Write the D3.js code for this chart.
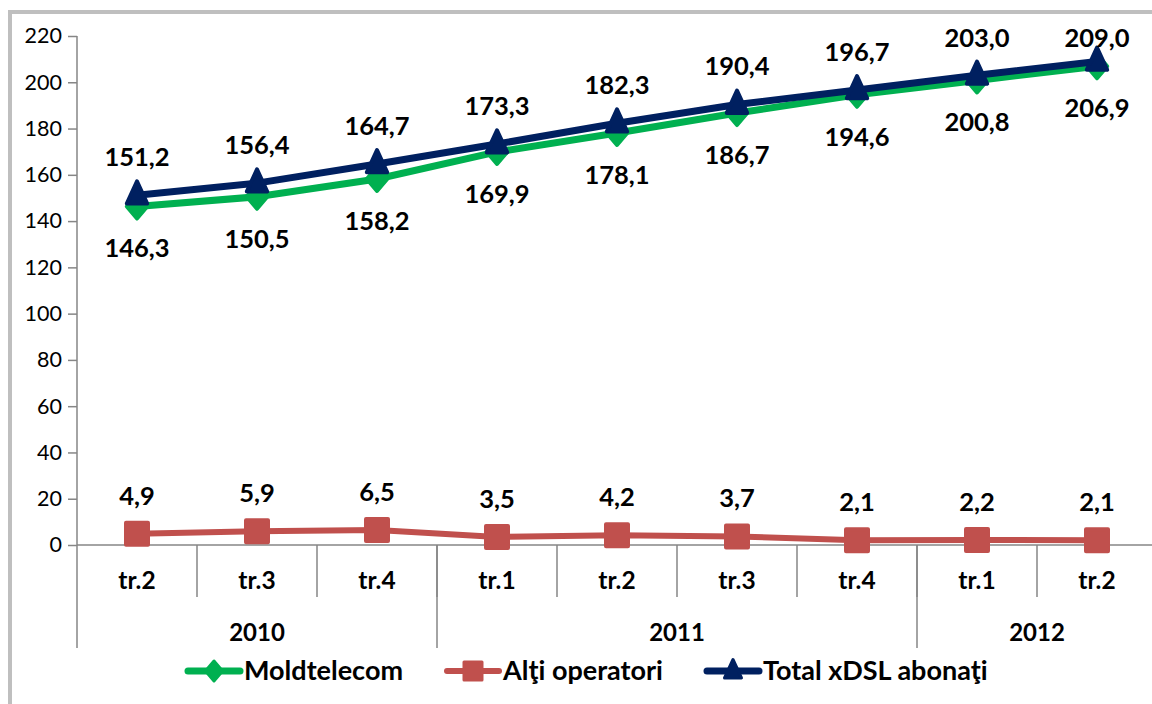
<!DOCTYPE html>
<html>
<head>
<meta charset="utf-8">
<script src="https://cdn.jsdelivr.net/npm/d3@7"></script>
<style>
  body { margin: 0; background: #fff; }
  svg { display: block; font-family: Lato, "Open Sans", sans-serif; }
</style>
</head>
<body>
<div id="chart"></div>
<script>
// data
var quarters = ['tr.2', 'tr.3', 'tr.4', 'tr.1', 'tr.2', 'tr.3', 'tr.4', 'tr.1', 'tr.2'];
var years = [
  {label: '2010', count: 3},
  {label: '2011', count: 4},
  {label: '2012', count: 2}
];
var moldtelecom = [146.3, 150.5, 158.2, 169.9, 178.1, 186.7, 194.6, 200.8, 206.9];
var altiOperatori = [4.9, 5.9, 6.5, 3.5, 4.2, 3.7, 2.1, 2.2, 2.1];
var totalXdsl = [151.2, 156.4, 164.7, 173.3, 182.3, 190.4, 196.7, 203.0, 209.0];
var yTicks = [0, 20, 40, 60, 80, 100, 120, 140, 160, 180, 200, 220];

var width = 1152, height = 704,
    plot = {left: 77, right: 1157, top: 36, bottom: 545};

var svg = d3.select('#chart').append('svg')
    .attr('width', width).attr('height', height);

// outer chart border (right/bottom edges fall outside the picture)
svg.append('rect')
    .attr('x', 10).attr('y', 12)
    .attr('width', 1170).attr('height', 720)
    .attr('fill', 'none').attr('stroke', '#bfbfbf').attr('stroke-width', 4);

var x = d3.scaleBand()
    .domain(d3.range(quarters.length))
    .range([plot.left, plot.right]);

var y = d3.scaleLinear()
    .domain([0, 220])
    .range([plot.bottom, plot.top]);

var axisColor = '#868686';

// y axis
var yAxis = svg.append('g')
    .attr('transform', `translate(${plot.left},0)`)
    .call(d3.axisLeft(y).tickValues(yTicks).tickSize(9).tickPadding(6).tickFormat(d3.format('d')));
yAxis.select('.domain').remove();
yAxis.selectAll('.tick line').attr('stroke', axisColor).attr('stroke-width', 1.5);
yAxis.selectAll('.tick text')
    .attr('fill', '#000').style('font-size', '21.5px').style('font-family', 'Lato, sans-serif');

svg.append('line')
    .attr('x1', plot.left).attr('x2', plot.left)
    .attr('y1', plot.top).attr('y2', 648)
    .attr('stroke', axisColor).attr('stroke-width', 1.5);

// x axis baseline
svg.append('line')
    .attr('x1', plot.left).attr('x2', plot.right)
    .attr('y1', plot.bottom).attr('y2', plot.bottom)
    .attr('stroke', axisColor).attr('stroke-width', 1.5);

// quarter separators + labels
svg.selectAll('.qtick')
    .data(d3.range(1, quarters.length + 1))
    .enter().append('line')
    .attr('x1', i => plot.left + i * x.step())
    .attr('x2', i => plot.left + i * x.step())
    .attr('y1', plot.bottom)
    .attr('y2', 597)
    .attr('stroke', axisColor).attr('stroke-width', 1.5);

svg.selectAll('.qlabel')
    .data(quarters)
    .enter().append('text')
    .attr('x', (d, i) => x(i) + x.bandwidth() / 2)
    .attr('y', 580)
    .attr('dy', '0.35em')
    .attr('text-anchor', 'middle')
    .style('font-size', '24.5px').style('font-weight', 'bold')
    .text(d => d);

// year groups
var start = 0;
years.forEach(function(yr) {
  var x0 = plot.left + start * x.step(),
      x1 = plot.left + (start + yr.count) * x.step();
  svg.append('line')
      .attr('x1', x1).attr('x2', x1)
      .attr('y1', plot.bottom).attr('y2', 648)
      .attr('stroke', axisColor).attr('stroke-width', 1.5);
  svg.append('text')
      .attr('x', (x0 + x1) / 2)
      .attr('y', 633)
      .attr('dy', '0.35em')
      .attr('text-anchor', 'middle')
      .style('font-size', '24px').style('font-weight', 'bold')
      .text(yr.label);
  start += yr.count;
});

// marker shapes
function diamond(s) { return `M0,${-s}L${s * 0.85},0L0,${s}L${-s * 0.85},0Z`; }
function square(s) { return `M${-s},${-s}H${s}V${s}H${-s}Z`; }
function triangle(s) { return `M0,${-s * 1.15}L${s * 0.85},${s * 0.7}L${-s * 0.85},${s * 0.7}Z`; }

var series = [
  {name: 'Alţi operatori', values: altiOperatori, color: '#c0504d', width: 6, shape: square, size: 11, labelDy: -38},
  {name: 'Moldtelecom', values: moldtelecom, color: '#00b050', width: 7, shape: diamond, size: 12, labelDy: 42},
  {name: 'Total xDSL abonaţi', values: totalXdsl, color: '#002060', width: 7, shape: triangle, size: 12, labelDy: -38}
];

var line = d3.line()
    .x((d, i) => x(i) + x.bandwidth() / 2)
    .y(d => y(d));

var fmt = d => d3.format('.1f')(d).replace('.', ',');

series.forEach(function(s) {
  var g = svg.append('g');
  g.append('path')
      .attr('d', line(s.values))
      .attr('fill', 'none')
      .attr('stroke', s.color)
      .attr('stroke-width', s.width)
      .attr('stroke-linejoin', 'round');
  g.selectAll('path.marker')
      .data(s.values)
      .enter().append('path')
      .attr('class', 'marker')
      .attr('transform', (d, i) => `translate(${x(i) + x.bandwidth() / 2},${y(d)})`)
      .attr('d', s.shape(s.size))
      .attr('fill', s.color)
      .attr('stroke', s.color)
      .attr('stroke-width', 4)
      .attr('stroke-linejoin', 'round');
});

// data labels drawn last so they sit on top; kept inside the plot area like excel does
series.forEach(function(s) {
  svg.append('g').selectAll('text')
      .data(s.values)
      .enter().append('text')
      .attr('x', (d, i) => x(i) + x.bandwidth() / 2)
      .attr('y', d => Math.max(y(d) + s.labelDy, 38))
      .attr('dy', '0.35em')
      .attr('text-anchor', 'middle')
      .style('font-size', '25.5px').style('font-weight', 'bold')
      .text(fmt);
});

// legend
var legendItems = [
  {s: series[1], x: 188},
  {s: series[0], x: 447},
  {s: series[2], x: 707}
];
legendItems.forEach(function(item) {
  var g = svg.append('g').attr('transform', `translate(${item.x},671)`);
  g.append('line')
      .attr('x1', 0).attr('x2', 52)
      .attr('stroke', item.s.color).attr('stroke-width', item.s.width)
      .attr('stroke-linecap', 'round');
  g.append('path')
      .attr('transform', 'translate(26,0)')
      .attr('d', item.s.shape(item.s.size - 2))
      .attr('fill', item.s.color)
      .attr('stroke', item.s.color)
      .attr('stroke-width', 3)
      .attr('stroke-linejoin', 'round');
  g.append('text')
      .attr('x', 56)
      .attr('dy', '0.35em')
      .style('font-size', '27px').style('font-weight', 'bold')
      .text(item.s.name);
});
</script>
</body>
</html>
